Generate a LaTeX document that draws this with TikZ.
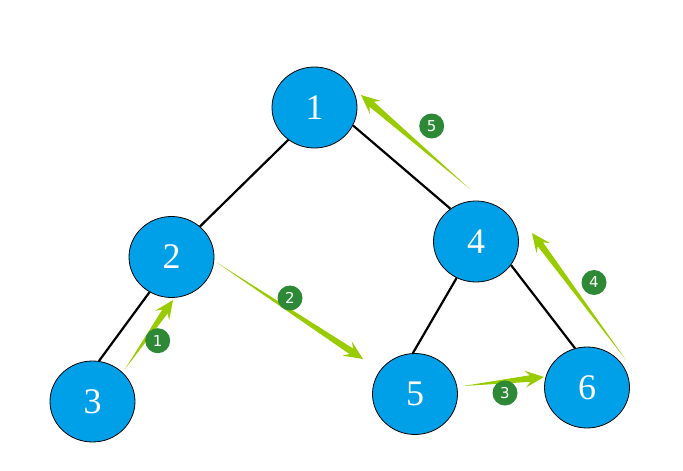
\documentclass[tikz,border=0pt]{standalone}
\usepackage{fontspec}
\setmainfont{Liberation Serif}
\newfontfamily\badgefont{DejaVu Sans}
\usetikzlibrary{shapes.geometric,calc}
\definecolor{nodeblue}{HTML}{00A0E9}
\definecolor{arrowgreen}{HTML}{99CC00}
\definecolor{badgegreen}{RGB}{46,137,55}
\tikzset{
  treenode/.style={ellipse,draw=black,line width=0.8pt,fill=nodeblue,minimum width=85pt,minimum height=81pt,inner sep=0pt,text=white,font=\fontsize{36}{38}\selectfont},
  treeedge/.style={draw=black,line width=2.2pt},
  badge/.style={circle,fill=badgegreen,minimum size=25pt,inner sep=0pt,text=white,font=\badgefont\fontsize{15}{16}\selectfont},
  flowarrow/.style={fill=arrowgreen}
}
\newcommand{\taparrow}[2]{%
  \path coordinate (tmpB) at ($(#2)!14pt!(#1)$) coordinate (tmpW) at ($(#2)!19pt!(#1)$);
  \fill[flowarrow] (#1) -- ($(tmpB)!3.3pt!90:(#2)$) -- ($(tmpW)!8.5pt!90:(#2)$) -- (#2) -- ($(tmpW)!8.5pt!-90:(#2)$) -- ($(tmpB)!3.3pt!-90:(#2)$) -- cycle;}
\begin{document}
\begin{tikzpicture}[x=1pt,y=-1pt]
\useasboundingbox (0,0) rectangle (683,471);
\node[treenode] (n1) at (314.5,107.5) {1};
\node[treenode] (n2) at (171.5,257) {2};
\node[treenode] (n3) at (92.5,401.5) {3};
\node[treenode] (n4) at (476,241.5) {4};
\node[treenode] (n5) at (415,394) {5};
\node[treenode] (n6) at (587,387.5) {6};
\draw[treeedge] (n1.231) -- (n2.47.5);
\draw[treeedge] (n1.335) -- (n4.128);
\draw[treeedge] (n2.238) -- (n3.81.7);
\draw[treeedge] (n4.242.5) -- (n5.93.7);
\draw[treeedge] (n4.326) -- (n6.107.7);
\coordinate (a1t) at (125,369);
\coordinate (a1h) at (173,300);
\coordinate (a2t) at (216,262);
\coordinate (a2h) at (363,359);
\coordinate (a3t) at (463,386);
\coordinate (a3h) at (544,377);
\coordinate (a4t) at (626,360);
\coordinate (a4h) at (532,233);
\coordinate (a5t) at (470,189);
\coordinate (a5h) at (361,95);
\taparrow{a1t}{a1h}
\taparrow{a2t}{a2h}
\taparrow{a3t}{a3h}
\taparrow{a4t}{a4h}
\taparrow{a5t}{a5h}
\node[badge] (b1) at (157.7,340.7) {1};
\node[badge] (b2) at (290,298) {2};
\node[badge] (b3) at (505,393) {3};
\node[badge] (b4) at (594,282.5) {4};
\node[badge] (b5) at (431.7,126) {5};
\end{tikzpicture}
\end{document}
